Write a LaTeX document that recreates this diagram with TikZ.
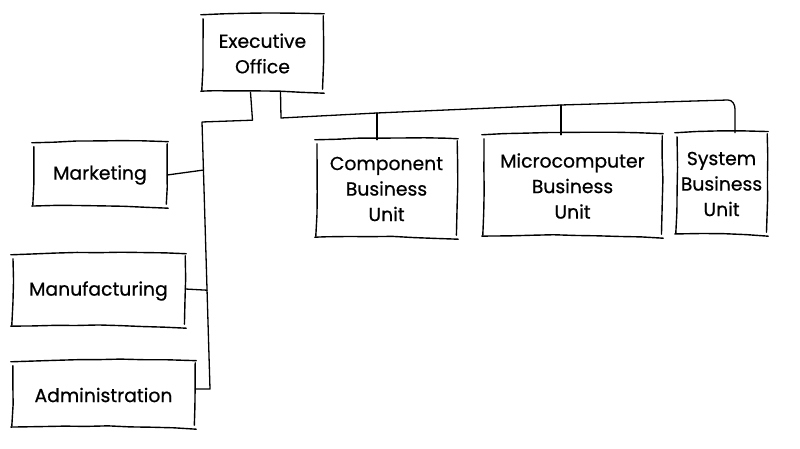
\documentclass[tikz,border=0pt]{standalone}
\usepackage{fontspec}
\setmainfont{Poppins}[FakeBold=0.6]
\usetikzlibrary{decorations.pathmorphing,calc}
\begin{document}
\begin{tikzpicture}[x=1pt,y=1pt,
  box/.style={draw=none,align=center,inner sep=0pt,font=\fontsize{18.8}{25.5}\selectfont},
  sketch/.style={draw=black,line width=1.4pt,line cap=round,line join=round,
    decorate,decoration={random steps,segment length=22pt,amplitude=0.4pt}},
  conn/.style={draw=black,line width=1.3pt,line cap=round,line join=round}]
\pgfmathsetseed{11}
\useasboundingbox (0,0) rectangle (800,449);
\node[box,minimum width=121pt,minimum height=77pt] (exec) at (262.5,395.5) {Executive\\Office};
\node[box,minimum width=134pt,minimum height=64pt] (mkt) at (100,274) {Marketing};
\node[box,minimum width=173pt,minimum height=72pt] (mfg) at (98.5,158) {Manufacturing};
\node[box,minimum width=183pt,minimum height=66pt] (adm) at (103.5,54) {Administration};
\node[box,minimum width=141pt,minimum height=98pt] (comp) at (386.5,260) {Component\\Business\\Unit};
\node[box,minimum width=179pt,minimum height=102pt] (micro) at (572.5,263) {Microcomputer\\Business\\Unit};
\node[box,minimum width=91pt,minimum height=102pt] (sys) at (721.5,265) {System\\Business\\Unit};
\foreach \n in {exec,mkt,mfg,adm,comp,micro,sys}{
  \draw[sketch] ([shift={(-1,0)}]\n.north west) to[bend left=2] ([shift={(1,1)}]\n.north east);
  \draw[sketch] ([shift={(0,-1)}]\n.north east) to[bend left=1.5] ([shift={(-1,3)}]\n.south east);
  \draw[sketch] ([shift={(1,-1)}]\n.south east) to[bend left=-2] ([shift={(-1,1)}]\n.south west);
  \draw[sketch] ([shift={(0,2)}]\n.south west) to[bend left=-1.5] ([shift={(1,-4)}]\n.north west);
}
% left spine
\coordinate (sptop) at (202,327);
\coordinate (spbot) at (210,60);
\draw[conn] ([xshift=-12pt]exec.south) -- ++(2,-28) -- (sptop) -- (spbot) -- (adm.east |- spbot);
\draw[conn] (mkt.east) -- ($(sptop)!0.18!(spbot)$);
\draw[conn] (mfg.east |- 0,160) -- ($(sptop)!0.63!(spbot)$);
% right bus
\coordinate (b1) at (281,331);
\coordinate (bc) at (377,336);
\coordinate (bm) at (561,344);
\coordinate (bs) at (728,349);
\coordinate (bd) at (735,340);
\draw[conn] ([xshift=18pt]exec.south) -- (b1) -- (bc) -- (bm) -- (bs) to[out=0,in=90] (bd) -- (bd|-sys.north);
\draw[conn] (bc) -- (bc|-comp.north);
\draw[conn] (bm) -- (bm|-micro.north);
\end{tikzpicture}
\end{document}
